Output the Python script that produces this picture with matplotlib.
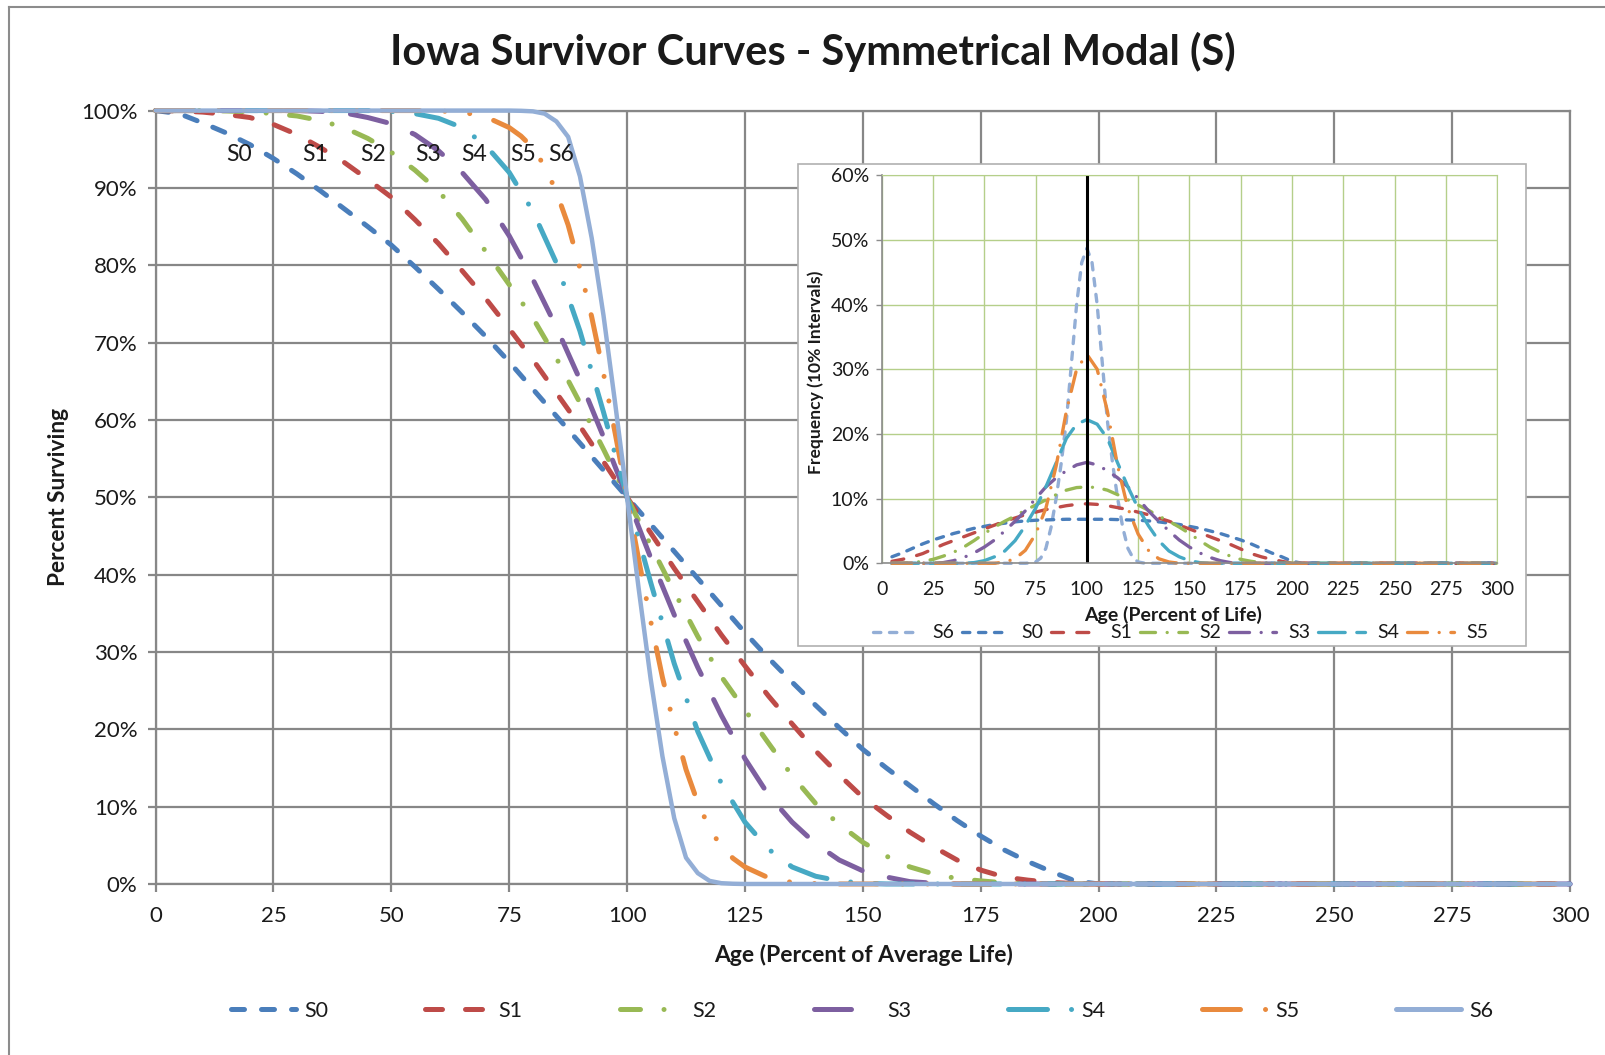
import matplotlib
matplotlib.use("Agg")
import matplotlib.pyplot as plt
from matplotlib.lines import Line2D
from matplotlib.patches import Rectangle

plt.rcParams['font.family'] = ['Lato', 'DejaVu Sans']

# ---- survivor curves (percent surviving vs age, % of average life) ----
x_s0 = [0, 5, 10, 15, 20, 25, 30, 35, 40, 45, 50, 55, 60, 65, 70, 75, 80, 85, 90, 95, 100,
        105, 110, 115, 120, 125, 130, 135, 140, 145, 150, 155, 160, 165, 170, 175, 180, 185, 190, 195, 200, 300]
s0 = [100, 99.6, 98.4, 97.1, 95.6, 93.8, 91.8, 89.6, 87.3, 85.0, 82.6, 79.8, 76.9, 73.9, 70.8, 67.5, 64.0, 60.5, 57.0, 53.5, 50,
      46.5, 43.0, 39.5, 36.0, 32.5, 29.2, 26.1, 23.1, 20.2, 17.4, 15.0, 12.7, 10.4, 8.2, 6.2, 4.4, 2.9, 1.6, 0.4, 0, 0]

x_s1 = x_s0
s1 = [100, 99.95, 99.8, 99.5, 99.1, 98.2, 96.9, 95.2, 93.3, 91.1, 88.8, 85.9, 82.8, 79.3, 75.7, 71.8, 67.8, 63.5, 59.2, 54.6, 50,
      45.4, 40.8, 36.5, 32.2, 28.2, 24.3, 20.7, 17.2, 14.1, 11.2, 8.9, 6.7, 4.8, 3.1, 1.8, 0.9, 0.5, 0.2, 0.05, 0, 0]

x_s2 = x_s0
s2 = [100, 100, 100, 99.95, 99.85, 99.6, 99.3, 98.7, 97.8, 96.4, 94.6, 92.3, 89.6, 86.0, 81.8, 77.5, 73.2, 68.0, 62.2, 56.2, 50,
      43.8, 37.8, 32.0, 26.8, 22.5, 18.2, 14.0, 10.4, 7.7, 5.4, 3.6, 2.2, 1.3, 0.7, 0.4, 0.15, 0.05, 0, 0, 0, 0]

x_s3 = [0, 30, 35, 40, 45, 50, 55, 60, 65, 70, 75, 80, 85, 90, 95, 100,
        105, 110, 115, 120, 125, 130, 135, 140, 145, 150, 155, 160, 165, 170, 300]
s3 = [100, 100, 99.9, 99.7, 99.1, 98.3, 96.9, 94.8, 92.0, 88.5, 83.8, 78.2, 72.0, 65.2, 57.8, 50,
      42.2, 34.8, 28.0, 21.8, 16.2, 11.5, 8.0, 5.2, 3.1, 1.7, 0.9, 0.3, 0.1, 0, 0]

x_s4 = [0, 45, 50, 55, 60, 65, 70, 75, 80, 85, 90, 95, 100,
        105, 110, 115, 120, 125, 130, 135, 140, 145, 150, 155, 300]
s4 = [100, 100, 99.9, 99.6, 99.0, 97.8, 95.5, 92.0, 87.0, 80.3, 71.5, 61.0, 50,
      39.0, 28.5, 19.7, 13.0, 8.0, 4.5, 2.2, 1.0, 0.4, 0.1, 0, 0]

x_s5 = [0, 55, 60, 65, 70, 75, 77.5, 80, 82.5, 85, 87.5, 90, 92.5, 95, 97.5, 100,
        102.5, 105, 107.5, 110, 112.5, 115, 117.5, 120, 122.5, 125, 130, 135, 140, 145, 300]
s5 = [100, 100, 99.95, 99.8, 99.2, 97.8, 96.7, 95.2, 92.8, 89.5, 85.2, 79.6, 73.3, 66.0, 58.2, 50,
      41.8, 34.0, 26.7, 20.4, 14.8, 10.5, 7.2, 4.8, 3.3, 2.2, 0.8, 0.2, 0.05, 0, 0]

x_s6 = [0, 75, 77.5, 80, 82.5, 85, 87.5, 90, 92.5, 95, 97.5, 100,
        102.5, 105, 107.5, 110, 112.5, 115, 117.5, 120, 122.5, 125, 300]
s6 = [100, 100, 99.97, 99.9, 99.6, 98.6, 96.6, 91.5, 83.5, 73.5, 62.0, 50,
      38.0, 26.5, 16.5, 8.5, 3.4, 1.4, 0.4, 0.1, 0.03, 0, 0]

# ---- frequency curves for the inset (% per 10% interval) ----
fx_s0 = [5, 10, 15, 20, 25, 30, 35, 40, 45, 50, 55, 60, 65, 70, 75, 80, 85, 90, 95, 100,
         105, 110, 115, 120, 125, 130, 135, 140, 145, 150, 155, 160, 165, 170, 175, 180, 185, 190, 195, 200, 205, 300]
f_s0 = [1.0, 1.6, 2.3, 3.0, 3.6, 4.1, 4.6, 5.0, 5.4, 5.7, 6.0, 6.2, 6.4, 6.55, 6.65, 6.7, 6.75, 6.8, 6.8, 6.8,
        6.8, 6.8, 6.75, 6.7, 6.65, 6.55, 6.4, 6.2, 6.0, 5.7, 5.4, 5.0, 4.6, 4.1, 3.6, 3.0, 2.3, 1.6, 1.0, 0.3, 0, 0]
fx_s1 = fx_s0
f_s1 = [0.3, 0.6, 1.0, 1.5, 2.2, 2.9, 3.5, 4.1, 4.7, 5.3, 5.9, 6.5, 7.0, 7.5, 7.9, 8.3, 8.6, 8.9, 9.1, 9.2,
        9.1, 8.9, 8.6, 8.3, 7.9, 7.5, 7.0, 6.5, 5.9, 5.3, 4.7, 4.1, 3.5, 2.9, 2.2, 1.5, 1.0, 0.6, 0.3, 0, 0, 0]
fx_s2 = fx_s0
f_s2 = [0, 0, 0.1, 0.3, 0.6, 1.1, 1.7, 2.5, 3.5, 4.6, 5.6, 6.5, 7.3, 8.2, 9.0, 9.8, 10.6, 11.3, 11.7, 11.8,
        11.7, 11.3, 10.6, 9.8, 9.0, 8.2, 7.3, 6.5, 5.6, 4.6, 3.5, 2.5, 1.7, 1.1, 0.6, 0.3, 0.1, 0, 0, 0, 0, 0]
fx_s3 = [5, 25, 30, 35, 40, 45, 50, 55, 60, 65, 70, 75, 80, 85, 90, 95, 100,
         105, 110, 115, 120, 125, 130, 135, 140, 145, 150, 155, 160, 165, 170, 175, 300]
f_s3 = [0, 0, 0.1, 0.4, 0.9, 1.6, 2.5, 3.6, 5.0, 6.5, 8.1, 10.0, 11.8, 13.2, 14.3, 15.2, 15.6,
        15.2, 14.3, 13.2, 11.8, 10.0, 8.1, 6.5, 5.0, 3.6, 2.5, 1.6, 0.9, 0.4, 0.1, 0, 0]
fx_s4 = [5, 40, 45, 50, 55, 60, 65, 70, 75, 80, 85, 90, 95, 100,
         105, 110, 115, 120, 125, 130, 135, 140, 145, 150, 155, 160, 300]
f_s4 = [0, 0, 0.1, 0.4, 1.0, 1.9, 3.5, 5.8, 8.5, 11.8, 15.5, 19.3, 21.5, 22.2,
        21.5, 19.3, 15.5, 11.8, 8.5, 5.8, 3.5, 1.9, 1.0, 0.4, 0.1, 0, 0]
fx_s5 = [5, 55, 60, 65, 70, 75, 80, 85, 90, 95, 100,
         105, 110, 115, 120, 125, 130, 135, 140, 145, 300]
f_s5 = [0, 0, 0.2, 0.7, 2.0, 4.5, 8.5, 15.0, 23.5, 30.0, 32.3,
        30.0, 23.5, 15.0, 8.5, 4.5, 2.0, 0.7, 0.2, 0, 0]
fx_s6 = [5, 70, 72.5, 75, 77.5, 80, 82.5, 85, 87.5, 90, 92.5, 95, 97.5, 100,
         102.5, 105, 107.5, 110, 112.5, 115, 117.5, 120, 122.5, 125, 127.5, 130, 300]
f_s6 = [0, 0, 0.05, 0.2, 0.8, 2.3, 5.5, 10.0, 15.5, 22.0, 31.0, 40.0, 46.5, 48.7,
        46.5, 40.0, 31.0, 22.0, 15.5, 10.0, 5.5, 2.3, 0.8, 0.2, 0.05, 0, 0]

names = ['S0', 'S1', 'S2', 'S3', 'S4', 'S5', 'S6']
mean_life = 100
label_x = [17.6, 33.9, 46.1, 57.8, 67.6, 78, 86]

colors = ['#4A7EBB', '#BE4B48', '#98B954', '#7D5FA0', '#46A9C4', '#E98A3D', '#93AED6']
styles = [(0, (2.6, 3.4)), (0, (3.4, 4.6)), (0, (4.0, 4.7, 0.01, 4.7)), (0, (7.4, 5.6)),
          (0, (7.8, 4.8, 0.01, 4.8)), (0, (7.6, 5.0, 0.01, 5.0, 0.01, 5.0)), '-']
grid_gray = '#878787'
txt = '#1A1A1A'

fig = plt.figure(figsize=(16.06, 10.55), dpi=100)

# outer frame (left and top edges visible)
fig.add_artist(Line2D([0.0056, 0.0056], [0, 0.9934], color='#8C8C8C', lw=1.5))
fig.add_artist(Line2D([0.0056, 1], [0.9934, 0.9934], color='#8C8C8C', lw=1.5))

ax = fig.add_axes([0.0969, 0.1621, 0.8807, 0.7331])
xs = [x_s0, x_s1, x_s2, x_s3, x_s4, x_s5, x_s6]
ys = [s0, s1, s2, s3, s4, s5, s6]
for i in range(7):
    lw = 3.2 if i == 6 else 3.6
    ax.plot(xs[i], ys[i], color=colors[i], lw=lw, linestyle=styles[i],
            dash_capstyle='round', solid_capstyle='round', solid_joinstyle='round',
            clip_on=False, zorder=3)

ax.set_xlim(0, 300)
ax.set_ylim(0, 100)
ax.set_xticks(range(0, 301, 25))
ax.set_yticks(range(0, 101, 10))
ax.set_yticklabels([f'{v}%' for v in range(0, 101, 10)])
ax.grid(True, color=grid_gray, lw=1.6)
ax.set_axisbelow(True)
for sp in ax.spines.values():
    sp.set_color(grid_gray)
    sp.set_linewidth(1.6)
ax.tick_params(direction='out', length=6, width=1.6, color=grid_gray,
               labelsize=16, labelcolor=txt, pad=7)
ax.tick_params(axis='x', pad=10)

for name, lx in zip(names, label_x):
    ax.text(lx, 94.3, name, ha='center', va='center', fontsize=16.5, color=txt, zorder=4)

fig.text(0.506, 0.951, 'Iowa Survivor Curves - Symmetrical Modal (S)', ha='center', va='center',
         fontsize=30, fontweight='bold', color=txt)
fig.text(0.0364, 0.529, 'Percent Surviving', rotation=90, ha='center', va='center',
         fontsize=16.3, fontweight='bold', color=txt)
fig.text(0.5377, 0.0952, 'Age (Percent of Average Life)', ha='center', va='center',
         fontsize=16.5, fontweight='bold', color=txt)

handles = [Line2D([], [], color=colors[i], lw=3.6, linestyle=styles[i], dash_capstyle='round',
                  solid_capstyle='round') for i in range(7)]
fig.legend(handles, names, loc='center', bbox_to_anchor=(0.537, 0.0417), ncol=7, frameon=False,
           fontsize=15.5, handlelength=3.0, handletextpad=0.4, columnspacing=4.5, labelcolor=txt)

# ---- inset: frequency curves ----
fig.add_artist(Rectangle((0.4968, 0.3874), 0.4534, 0.4572, transform=fig.transFigure,
                         facecolor='white', edgecolor='#B0B0B0', lw=1.2, zorder=5))
axi = fig.add_axes([0.549, 0.4661, 0.3833, 0.3679], zorder=6)
axi.patch.set_alpha(0)
fxs = [fx_s0, fx_s1, fx_s2, fx_s3, fx_s4, fx_s5, fx_s6]
fys = [f_s0, f_s1, f_s2, f_s3, f_s4, f_s5, f_s6]
in_styles = [(0, (2.2, 2.6)), (0, (2.2, 2.6)), (0, (3.6, 4.0)), (0, (4.5, 3.5, 0.01, 3.5)),
             (0, (6.0, 3.5, 0.01, 3.5)), (0, (8.0, 3.5)), (0, (6.0, 3.5, 0.01, 3.5))]
in_colors = ['#93AED6', '#4A7EBB', '#BE4B48', '#98B954', '#7D5FA0', '#46A9C4', '#E98A3D']
order = [6, 0, 1, 2, 3, 4, 5]
in_handles = []
for k, i in enumerate(order):
    axi.plot(fxs[i], fys[i], color=in_colors[k], lw=2.4, linestyle=in_styles[k],
             dash_capstyle='round', clip_on=False)
    in_handles.append(Line2D([], [], color=in_colors[k], lw=2.4, linestyle=in_styles[k],
                             dash_capstyle='round'))
axi.axvline(mean_life, color='black', lw=2.2)
axi.set_xlim(0, 300)
axi.set_ylim(0, 60)
axi.set_xticks(range(0, 301, 25))
axi.set_yticks(range(0, 61, 10))
axi.set_yticklabels([f'{v}%' for v in range(0, 61, 10)])
axi.grid(True, color='#B5CF8A', lw=1.0)
axi.set_axisbelow(True)
for sp in ['top', 'right']:
    axi.spines[sp].set_color('#B5CF8A')
for sp in ['left', 'bottom']:
    axi.spines[sp].set_color('#8C8C8C')
    axi.spines[sp].set_linewidth(1.2)
axi.tick_params(direction='out', length=4, width=1.0, color='#8C8C8C',
                labelsize=14, labelcolor=txt, pad=5)
axi.tick_params(axis='x', length=0, pad=13)
fig.text(0.7303, 0.4175, 'Age (Percent of Life)', ha='center', va='center',
         fontsize=14, fontweight='bold', color=txt, zorder=7)
fig.text(0.508, 0.647, 'Frequency (10% Intervals)', rotation=90, ha='center', va='center',
         fontsize=12.6, fontweight='bold', color=txt, zorder=7)
leg = fig.legend(in_handles, [names[i] for i in order], loc='center', bbox_to_anchor=(0.735, 0.40),
                 ncol=7, frameon=False, fontsize=14, handlelength=2.45, handletextpad=0.6,
                 columnspacing=0.4, labelcolor=txt, borderpad=0.1)
leg.set_zorder(8)

fig.savefig('out.png', dpi=100)
